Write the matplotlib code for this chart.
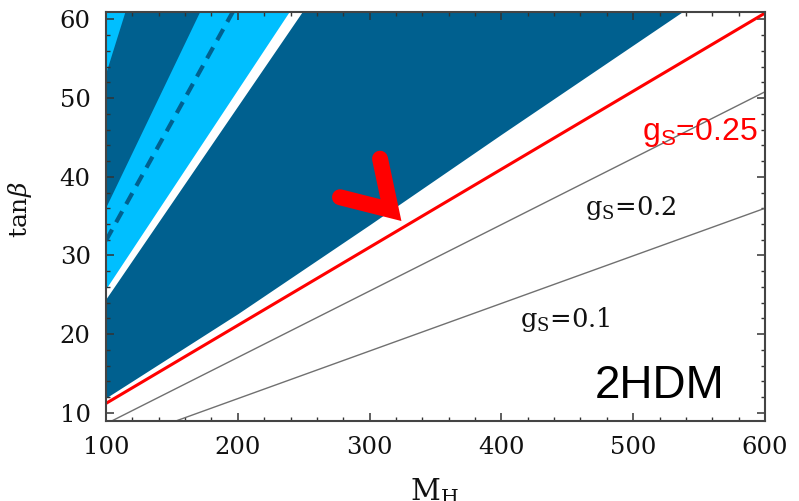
import matplotlib
matplotlib.use("Agg")
import matplotlib.pyplot as plt
from matplotlib.ticker import MultipleLocator

# data (M_H, tan beta)
m_range = [100, 600]
tb_range = [9, 60.9]

# lower edge of the dark blue excluded region
excl_m = [100, 200, 300, 400, 542]
excl_tb = [11.9, 22.6, 33.9, 45.4, 61.5]

# white wedge / light blue band / inner dark band / corner sliver (edges)
white_m, white_tb = [100, 251], [24.5, 61.5]
band_m, band_tb = [100, 241], [25.8, 61.5]
inner_m, inner_tb = [100, 172.5], [36.2, 61.5]
sliver_m, sliver_tb = [100, 115.3], [53.3, 61.5]
dash_m, dash_tb = [100, 198], [31.9, 61.5]

# constant coupling lines
gs025_m, gs025_tb = [100, 600], [11.2, 60.8]
gs02_m, gs02_tb = [100, 600], [8.6, 50.8]
gs01_m, gs01_tb = [153.6, 600], [9.0, 36.0]

# arrow marker pointing at the g_S = 0.25 line
arrow_m = [277.5, 316.2, 307.9]
arrow_tb = [37.4, 35.76, 42.3]

dark = "#00608f"
light = "#00bfff"
top = 61.5
serif = ["DejaVu Serif"]
sans = ["Liberation Sans", "DejaVu Sans"]

plt.rcParams["font.family"] = serif
plt.rcParams["mathtext.fontset"] = "dejavuserif"

fig = plt.figure(figsize=(7.99, 5.01), dpi=100)
ax = fig.add_axes([0.1327, 0.1603, 0.8247, 0.8151])

ax.fill_between(excl_m, excl_tb, top, color=dark, lw=0)
ax.fill_between(white_m, white_tb, top, color="white", lw=0)
ax.fill_between(band_m, band_tb, top, color=light, lw=0)
ax.fill_between(inner_m, inner_tb, top, color=dark, lw=0)
ax.fill_between(sliver_m, sliver_tb, top, color=light, lw=0)
ax.plot(dash_m, dash_tb, color=dark, lw=3, linestyle=(0, (3.0, 2.0)))

ax.plot(gs02_m, gs02_tb, color="#707070", lw=1.0)
ax.plot(gs01_m, gs01_tb, color="#707070", lw=1.0)
ax.plot(gs025_m, gs025_tb, color="red", lw=2.2)

ax.plot(arrow_m, arrow_tb, color="red", lw=11.5, solid_capstyle="round",
        solid_joinstyle="miter")

ax.text(506.7, 44.65, r"$\mathregular{g_S}$=0.25", color="red", fontsize=23,
        family=sans, ha="left", va="baseline")
ax.text(463.4, 35.2, r"$\mathregular{g_S}$=0.2", color="#111111", fontsize=18.5,
        ha="left", va="baseline")
ax.text(414.1, 20.9, r"$\mathregular{g_S}$=0.1", color="#111111", fontsize=18.5,
        ha="left", va="baseline")
ax.text(471, 11.9, "2HDM", color="black", fontsize=33,
        family=sans, ha="left", va="baseline")

ax.set_xlim(m_range)
ax.set_ylim(tb_range)
ax.xaxis.set_major_locator(MultipleLocator(100))
ax.xaxis.set_minor_locator(MultipleLocator(20))
ax.yaxis.set_major_locator(MultipleLocator(10))
ax.yaxis.set_minor_locator(MultipleLocator(2))
ax.tick_params(which="both", direction="in", top=True, right=True,
               color="#333333", labelsize=17.5, labelcolor="#111111")
ax.tick_params(which="major", length=6, width=1.1, pad=11)
ax.tick_params(which="minor", length=3, width=1.0)
for s in ax.spines.values():
    s.set_color("#444444")
    s.set_linewidth(1.5)

ax.set_xlabel(r"$\mathregular{M_H}$", fontsize=21, color="#111111")
ax.xaxis.set_label_coords(0.499, -0.135)
ax.set_ylabel(r"tan$\beta$", fontsize=18, color="#111111")
ax.yaxis.set_label_coords(-0.11, 0.516)

fig.savefig("out.png", dpi=100)
